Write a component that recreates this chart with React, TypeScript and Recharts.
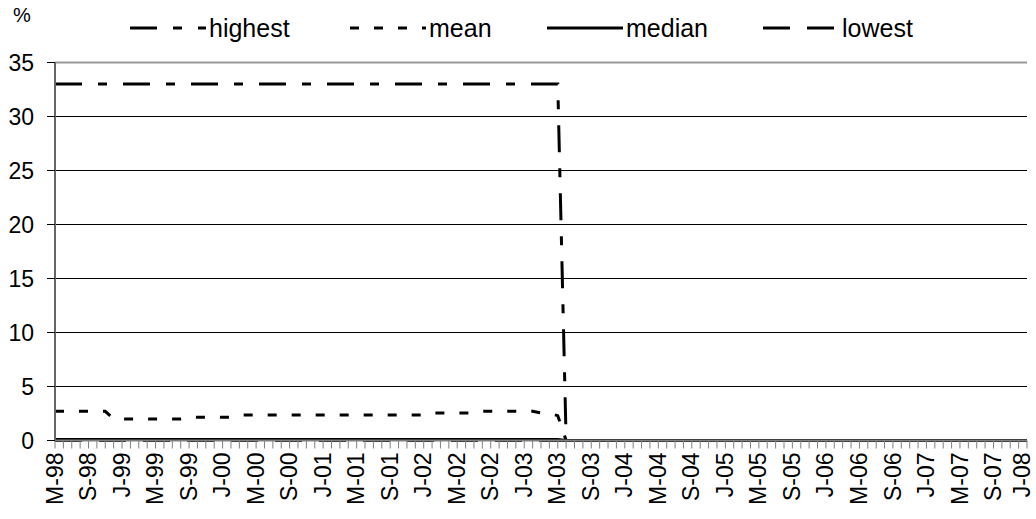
import React from "react"
import { CartesianGrid, Line, LineChart, ReferenceLine, XAxis, YAxis } from "recharts"

// monthly observations, May 1998 to January 2008
const months = [
  "May-98", "Jun-98", "Jul-98", "Aug-98", "Sep-98", "Oct-98", "Nov-98", "Dec-98",
  "Jan-99", "Feb-99", "Mar-99", "Apr-99", "May-99", "Jun-99", "Jul-99", "Aug-99", "Sep-99", "Oct-99", "Nov-99", "Dec-99",
  "Jan-00", "Feb-00", "Mar-00", "Apr-00", "May-00", "Jun-00", "Jul-00", "Aug-00", "Sep-00", "Oct-00", "Nov-00", "Dec-00",
  "Jan-01", "Feb-01", "Mar-01", "Apr-01", "May-01", "Jun-01", "Jul-01", "Aug-01", "Sep-01", "Oct-01", "Nov-01", "Dec-01",
  "Jan-02", "Feb-02", "Mar-02", "Apr-02", "May-02", "Jun-02", "Jul-02", "Aug-02", "Sep-02", "Oct-02", "Nov-02", "Dec-02",
  "Jan-03", "Feb-03", "Mar-03", "Apr-03", "May-03", "Jun-03", "Jul-03", "Aug-03", "Sep-03", "Oct-03", "Nov-03", "Dec-03",
  "Jan-04", "Feb-04", "Mar-04", "Apr-04", "May-04", "Jun-04", "Jul-04", "Aug-04", "Sep-04", "Oct-04", "Nov-04", "Dec-04",
  "Jan-05", "Feb-05", "Mar-05", "Apr-05", "May-05", "Jun-05", "Jul-05", "Aug-05", "Sep-05", "Oct-05", "Nov-05", "Dec-05",
  "Jan-06", "Feb-06", "Mar-06", "Apr-06", "May-06", "Jun-06", "Jul-06", "Aug-06", "Sep-06", "Oct-06", "Nov-06", "Dec-06",
  "Jan-07", "Feb-07", "Mar-07", "Apr-07", "May-07", "Jun-07", "Jul-07", "Aug-07", "Sep-07", "Oct-07", "Nov-07", "Dec-07",
  "Jan-08",
]

const highest = [
  33, 33, 33, 33, 33, 33, 33, 33,
  33, 33, 33, 33, 33, 33, 33, 33, 33, 33, 33, 33,
  33, 33, 33, 33, 33, 33, 33, 33, 33, 33, 33, 33,
  33, 33, 33, 33, 33, 33, 33, 33, 33, 33, 33, 33,
  33, 33, 33, 33, 33, 33, 33, 33, 33, 33, 33, 33,
  33, 33, 33, 33, 33, 0, 0, 0, 0, 0, 0, 0,
  0, 0, 0, 0, 0, 0, 0, 0, 0, 0, 0, 0,
  0, 0, 0, 0, 0, 0, 0, 0, 0, 0, 0, 0,
  0, 0, 0, 0, 0, 0, 0, 0, 0, 0, 0, 0,
  0, 0, 0, 0, 0, 0, 0, 0, 0, 0, 0, 0,
  0,
]

const mean = [
  2.7, 2.7, 2.7, 2.7, 2.7, 2.7, 2.7, 2.0,
  2.0, 2.0, 2.0, 2.0, 2.0, 2.0, 2.0, 2.0, 2.15, 2.15, 2.15, 2.15,
  2.15, 2.15, 2.35, 2.35, 2.35, 2.35, 2.35, 2.35, 2.35, 2.35, 2.35, 2.35,
  2.35, 2.35, 2.35, 2.35, 2.35, 2.35, 2.35, 2.35, 2.35, 2.35, 2.35, 2.35,
  2.35, 2.55, 2.55, 2.55, 2.55, 2.55, 2.55, 2.7, 2.7, 2.7, 2.7, 2.7,
  2.7, 2.7, 2.55, 2.5, 2.3, 0, 0, 0, 0, 0, 0, 0,
  0, 0, 0, 0, 0, 0, 0, 0, 0, 0, 0, 0,
  0, 0, 0, 0, 0, 0, 0, 0, 0, 0, 0, 0,
  0, 0, 0, 0, 0, 0, 0, 0, 0, 0, 0, 0,
  0, 0, 0, 0, 0, 0, 0, 0, 0, 0, 0, 0,
  0,
]

const median = [
  0.1, 0.1, 0.1, 0.1, 0.1, 0.1, 0.1, 0.1,
  0.1, 0.1, 0.1, 0.1, 0.1, 0.1, 0.1, 0.1, 0.1, 0.1, 0.1, 0.1,
  0.1, 0.1, 0.1, 0.1, 0.1, 0.1, 0.1, 0.1, 0.1, 0.1, 0.1, 0.1,
  0.1, 0.1, 0.1, 0.1, 0.1, 0.1, 0.1, 0.1, 0.1, 0.1, 0.1, 0.1,
  0.1, 0.1, 0.1, 0.1, 0.1, 0.1, 0.1, 0.1, 0.1, 0.1, 0.1, 0.1,
  0.1, 0.1, 0.1, 0.1, 0.1, 0, 0, 0, 0, 0, 0, 0,
  0, 0, 0, 0, 0, 0, 0, 0, 0, 0, 0, 0,
  0, 0, 0, 0, 0, 0, 0, 0, 0, 0, 0, 0,
  0, 0, 0, 0, 0, 0, 0, 0, 0, 0, 0, 0,
  0, 0, 0, 0, 0, 0, 0, 0, 0, 0, 0, 0,
  0,
]

const lowest = [
  0, 0, 0, 0, 0, 0, 0, 0,
  0, 0, 0, 0, 0, 0, 0, 0, 0, 0, 0, 0,
  0, 0, 0, 0, 0, 0, 0, 0, 0, 0, 0, 0,
  0, 0, 0, 0, 0, 0, 0, 0, 0, 0, 0, 0,
  0, 0, 0, 0, 0, 0, 0, 0, 0, 0, 0, 0,
  0, 0, 0, 0, 0, 0, 0, 0, 0, 0, 0, 0,
  0, 0, 0, 0, 0, 0, 0, 0, 0, 0, 0, 0,
  0, 0, 0, 0, 0, 0, 0, 0, 0, 0, 0, 0,
  0, 0, 0, 0, 0, 0, 0, 0, 0, 0, 0, 0,
  0, 0, 0, 0, 0, 0, 0, 0, 0, 0, 0, 0,
  0,
]

const yTicks = [0, 5, 10, 15, 20, 25, 30, 35]

const FONT = "Arial, 'Liberation Sans', sans-serif"

const series = [
  { key: "highest", dash: "27 16 9 16", x: 130 },
  { key: "mean", dash: "9 15", x: 350 },
  { key: "median", dash: undefined, x: 547 },
  { key: "lowest", dash: "27 17", x: 763 },
]

const data = months.map((m, i) => ({
  month: m,
  highest: highest[i],
  mean: mean[i],
  median: median[i],
  lowest: lowest[i],
}))

// every month gets a tick mark, only every fourth one a label (M-98, S-98, J-99 ...)
function MonthTick(props: any) {
  const { x, y, payload, index } = props
  if (index % 4 !== 0) return <g />
  const v: string = payload.value
  const label = v.charAt(0) + v.slice(3)
  // keep the last label inside the picture
  const lx = Math.min(x, 1022)
  return (
    <text
      x={lx}
      y={y}
      transform={`rotate(-90 ${lx} ${y})`}
      textAnchor="end"
      dy="0.33em"
      fontSize={23}
      fontFamily={FONT}
      fill="#000"
    >
      {label}
    </text>
  )
}

function LegendRow() {
  return (
    <svg width={1036} height={50} style={{ position: "absolute", left: 0, top: 0 }}>
      {series.map((s) => (
        <g key={s.key}>
          <line
            x1={s.x}
            x2={s.x + 76}
            y1={28}
            y2={28}
            stroke="#000"
            strokeWidth={3}
            strokeDasharray={s.dash}
          />
          <text x={s.x + 79} y={28} dy="0.36em" fontSize={25} fontFamily={FONT} fill="#000">
            {s.key}
          </text>
        </g>
      ))}
    </svg>
  )
}

export default function App() {
  return (
    <div style={{ position: "fixed", left: 0, top: 0, width: 1036, height: 519, background: "#fff" }}>
      <div style={{ position: "absolute", left: 13, top: 4, fontSize: 20, fontFamily: FONT }}>%</div>
      <LegendRow />
      <LineChart width={1036} height={519} data={data} margin={{ top: 62.5, right: 9, left: 0, bottom: 0 }}>
        <CartesianGrid vertical={false} stroke="#000" strokeWidth={1} />
        <ReferenceLine y={35} stroke="#999" strokeWidth={2} />
        <XAxis
          dataKey="month"
          interval={0}
          height={78.5}
          tick={<MonthTick />}
          tickSize={8}
          tickMargin={4}
          tickLine={{ stroke: "#808080" }}
          axisLine={{ stroke: "#808080", strokeWidth: 2 }}
        />
        <YAxis
          domain={[0, 35]}
          ticks={yTicks}
          width={55}
          tickSize={8}
          tickMargin={13}
          tick={{ fontSize: 23, fill: "#000", fontFamily: FONT }}
          tickLine={{ stroke: "#000" }}
          axisLine={{ stroke: "#666", strokeWidth: 2 }}
        />
        <Line type="linear" dataKey="lowest" stroke="#000" strokeWidth={3} strokeDasharray="27 17" dot={false} isAnimationActive={false} />
        <Line type="linear" dataKey="median" stroke="#000" strokeWidth={3} dot={false} isAnimationActive={false} />
        <Line type="linear" dataKey="mean" stroke="#000" strokeWidth={3} strokeDasharray="9 15" dot={false} isAnimationActive={false} />
        <Line type="linear" dataKey="highest" stroke="#000" strokeWidth={3} strokeDasharray="27 16 9 16" dot={false} isAnimationActive={false} />
      </LineChart>
    </div>
  )
}
